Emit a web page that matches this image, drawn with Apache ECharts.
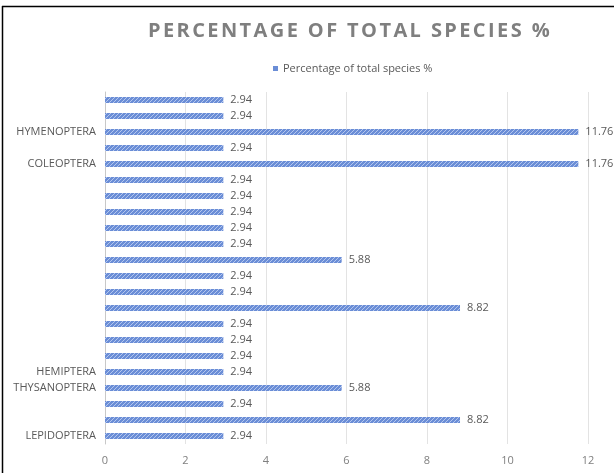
<!DOCTYPE html>
<html>
<head>
<meta charset="utf-8">
<script src="https://cdn.jsdelivr.net/npm/echarts@6/dist/echarts.min.js"></script>
<style>
  html, body { margin: 0; padding: 0; background: #fff; }
  #chart { width: 614px; height: 473px; }
</style>
</head>
<body>
<div id="chart"></div>
<script>
// Insect orders, listed top to bottom; unnamed rows carry no label
const categories = [
  '', '', 'HYMENOPTERA', '', 'COLEOPTERA', '', '', '', '', '', '',
  '', '', '', '', '', '', 'HEMIPTERA', 'THYSANOPTERA', '', '', 'LEPIDOPTERA'
];
const percentValues = [
  2.94, 2.94, 11.76, 2.94, 11.76, 2.94, 2.94, 2.94, 2.94, 2.94, 5.88,
  2.94, 2.94, 8.82, 2.94, 2.94, 2.94, 2.94, 5.88, 2.94, 8.82, 2.94
];
const xTicks = [0, 2, 4, 6, 8, 10, 12];
const seriesName = 'Percentage of total species %';

// Spaced-out heading: widen letter spacing for the title face only
const TITLE_FACE = 'TitleFace';
const origFillText = CanvasRenderingContext2D.prototype.fillText;
CanvasRenderingContext2D.prototype.fillText = function (text, x, y, maxW) {
  if (this.font && this.font.indexOf(TITLE_FACE) >= 0) {
    const prev = this.letterSpacing;
    this.letterSpacing = '2.4px';
    const r = maxW === undefined ? origFillText.call(this, text, x, y) : origFillText.call(this, text, x, y, maxW);
    this.letterSpacing = prev;
    return r;
  }
  return maxW === undefined ? origFillText.call(this, text, x, y) : origFillText.call(this, text, x, y, maxW);
};

// Diagonal hatch fill for the bars
function makeHatch() {
  const c = document.createElement('canvas');
  c.width = 4; c.height = 4;
  const g = c.getContext('2d');
  g.fillStyle = '#6a8dd6';
  g.fillRect(0, 0, 4, 4);
  g.fillStyle = '#b3c6ee';
  // one-pixel diagonal running bottom-left to top-right
  g.fillRect(0, 3, 1, 1);
  g.fillRect(1, 2, 1, 1);
  g.fillRect(2, 1, 1, 1);
  g.fillRect(3, 0, 1, 1);
  return c;
}

const chart = echarts.init(document.getElementById('chart'), null, { renderer: 'canvas' });

chart.setOption({
  animation: false,
  backgroundColor: '#ffffff',
  title: {
    text: 'PERCENTAGE OF TOTAL SPECIES %',
    left: 143,
    top: 16,
    textStyle: {
      fontFamily: '"Open Sans", ' + TITLE_FACE,
      fontWeight: 'bold',
      fontSize: 20,
      color: '#7f7f7f'
    }
  },
  legend: {
    left: 268,
    top: 58,
    itemWidth: 5,
    itemHeight: 5,
    itemGap: 6,
    icon: 'rect',
    data: [{ name: seriesName, itemStyle: { color: '#6a8dd6' } }],
    textStyle: { fontFamily: 'Open Sans', fontSize: 11, color: '#595959' }
  },
  grid: { left: 105, right: 26, top: 92, bottom: 29, containLabel: false },
  xAxis: {
    type: 'value',
    min: xTicks[0],
    max: xTicks[xTicks.length - 1],
    interval: xTicks[1] - xTicks[0],
    axisLine: { show: false },
    axisTick: { show: false },
    splitLine: { lineStyle: { color: '#e3e3e3', width: 1 } },
    axisLabel: { margin: 11, fontFamily: 'Open Sans', fontSize: 11, color: '#7f7f7f' }
  },
  yAxis: {
    type: 'category',
    inverse: true,
    data: categories,
    axisLine: { show: true, lineStyle: { color: '#c8c8c8', width: 1 } },
    axisTick: { show: false },
    axisLabel: { interval: 0, margin: 9, fontFamily: 'Open Sans', fontSize: 11, color: '#595959' }
  },
  series: [{
    name: seriesName,
    type: 'bar',
    data: percentValues,
    barWidth: 6,
    itemStyle: { color: { image: makeHatch(), repeat: 'repeat' } },
    label: {
      show: true,
      position: 'right',
      distance: 7,
      fontFamily: 'Open Sans',
      fontSize: 11,
      color: '#595959',
      formatter: p => p.value.toFixed(2)
    }
  }],
  graphic: [
    { type: 'line', shape: { x1: 2.5, y1: 6, x2: 2.5, y2: 473 }, style: { stroke: '#000', lineWidth: 1.5 } },
    { type: 'line', shape: { x1: 2, y1: 6.5, x2: 614, y2: 6.5 }, style: { stroke: '#000', lineWidth: 1.5 } }
  ]
});
</script>
</body>
</html>
